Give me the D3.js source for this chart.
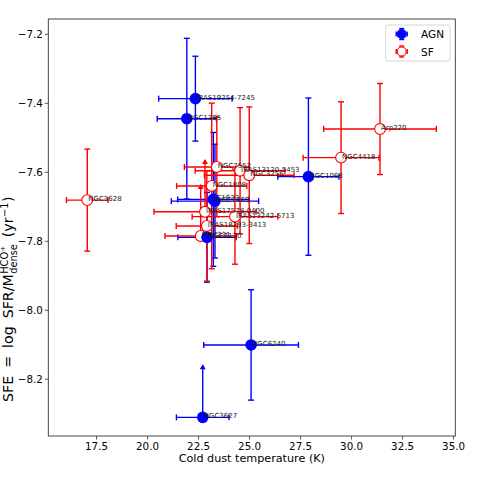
<!DOCTYPE html>
<html>
<head>
<meta charset="utf-8">
<script src="https://cdn.jsdelivr.net/npm/d3@7"></script>
<style>
  body { margin: 0; background: #fff; }
  text { font-family: 'DejaVu Sans', sans-serif; }
</style>
</head>
<body>
<div id="chart"></div>
<script>
//DATA
var agnNames = ['IRAS19254-7245', 'NGC1365', 'NGC1068', 'IC1623', 'NGC7469', 'NGC7130', 'NGC6240', 'NGC3627'];
var agnTemp  = [22.37, 21.95, 27.91, 23.25, 23.33, 22.94, 25.10, 22.73];
var agnTempErr = [1.8, 1.45, 1.5, 1.75, 2.14, 1.43, 2.32, 1.29];
var agnSfe   = [-7.388, -7.446, -7.614, -7.680, -7.685, -7.790, -8.102, -8.312];
var agnSfeErr = [0.123, 0.233, 0.228, 0.194, 0.165, 0.13, 0.16, 0.151];
var agnUplim = [false, false, false, false, false, false, false, true];

var sfNames = ['Arp220', 'NGC4418', 'NGC3628', 'NGC7552', 'IRAS13120-5453', 'NGC3256', 'NGC1808', 'IRAS17578-0400', 'IRAS13242-5713', 'IRAS18293-3413', 'MRK331'];
var sfTemp  = [31.42, 29.51, 17.07, 23.42, 24.56, 25.01, 23.17, 22.84, 24.31, 22.93, 22.63];
var sfTempErr = [2.76, 1.86, 1.02, 1.59, 2.2, 2.2, 1.72, 2.5, 2.1, 1.5, 1.75];
var sfSfe   = [-7.476, -7.559, -7.682, -7.586, -7.597, -7.610, -7.641, -7.716, -7.730, -7.757, -7.786];
var sfSfeErr = [0.132, 0.162, 0.148, 0.144, 0.183, 0.198, 0.24, 0.15, 0.138, 0.16, 0.148];
var sfUplim = [false, false, false, false, false, false, false, true, false, false, true];

var xTicks = [17.5, 20.0, 22.5, 25.0, 27.5, 30.0, 32.5, 35.0];
var yTicks = [-7.2, -7.4, -7.6, -7.8, -8.0, -8.2];

//SET UP
var width = 485,
    height = 485,
    plotLeft = 48.3, plotRight = 455.3, plotTop = 19, plotBottom = 436;

var svg = d3.select('#chart').append('svg')
    .attr('width', width)
    .attr('height', height);

var x = d3.scaleLinear().domain([15.16, 35.11]).range([plotLeft, plotRight]);
var y = d3.scaleLinear().domain([-7.157, -8.366]).range([plotTop, plotBottom]);

function makeRows(names, t, te, s, se, up) {
  return names.map(function(n, i) {
    return { name: n, t: t[i], te: te[i], s: s[i], se: se[i], up: up[i] };
  });
}
var agn = makeRows(agnNames, agnTemp, agnTempErr, agnSfe, agnSfeErr, agnUplim);
var sf = makeRows(sfNames, sfTemp, sfTempErr, sfSfe, sfSfeErr, sfUplim);

//AXES
var xAxis = d3.axisBottom(x).tickValues(xTicks).tickSize(3.5).tickPadding(3)
    .tickFormat(d3.format('.1f'));
var yAxis = d3.axisLeft(y).tickValues(yTicks).tickSize(3.5).tickPadding(2)
    .tickFormat(function(d) { return d3.format('.1f')(d).replace('-', '\u2212'); });

var gx = svg.append('g').attr('transform', 'translate(0,' + plotBottom + ')').call(xAxis);
var gy = svg.append('g').attr('transform', 'translate(' + plotLeft + ',0)').call(yAxis);
[gx, gy].forEach(function(g) {
  g.select('.domain').remove();
  g.selectAll('line').attr('stroke', '#333').attr('stroke-width', 0.8);
  g.selectAll('text').attr('font-size', 10.3).attr('fill', '#000')
    .attr('font-family', 'DejaVu Sans');
});

//ERROR BARS
function drawBars(rows, color) {
  var g = svg.append('g').attr('stroke', color).attr('stroke-width', 1.4).attr('fill', 'none');
  rows.forEach(function(d) {
    var cx = x(d.t), cy = y(d.s);
    // horizontal
    g.append('line').attr('x1', x(d.t - d.te)).attr('x2', x(d.t + d.te)).attr('y1', cy).attr('y2', cy);
    [d.t - d.te, d.t + d.te].forEach(function(v) {
      g.append('line').attr('x1', x(v)).attr('x2', x(v)).attr('y1', cy - 3).attr('y2', cy + 3);
    });
    // vertical
    if (d.up) {
      var ty = y(d.s + d.se);
      g.append('line').attr('x1', cx).attr('x2', cx).attr('y1', cy).attr('y2', ty);
      g.append('path').attr('fill', color).attr('stroke', 'none')
        .attr('d', 'M' + (cx - 3) + ',' + (ty + 4) + 'L' + cx + ',' + (ty - 1) + 'L' + (cx + 3) + ',' + (ty + 4) + 'Z');
    } else {
      g.append('line').attr('x1', cx).attr('x2', cx).attr('y1', y(d.s + d.se)).attr('y2', y(d.s - d.se));
      [d.s + d.se, d.s - d.se].forEach(function(v) {
        g.append('line').attr('x1', cx - 3).attr('x2', cx + 3).attr('y1', y(v)).attr('y2', y(v));
      });
    }
  });
}
drawBars(agn, 'blue');
drawBars(sf, 'red');

//MARKERS
svg.append('g').selectAll('circle').data(sf).enter().append('circle')
    .attr('cx', function(d) { return x(d.t); })
    .attr('cy', function(d) { return y(d.s); })
    .attr('r', 5.4)
    .attr('fill', '#fff').attr('stroke', 'red').attr('stroke-width', 1.1);

svg.append('g').selectAll('circle').data(agn).enter().append('circle')
    .attr('cx', function(d) { return x(d.t); })
    .attr('cy', function(d) { return y(d.s); })
    .attr('r', 5.8)
    .attr('fill', 'blue');

//LABELS
svg.append('g').selectAll('text').data(agn.concat(sf)).enter().append('text')
    .attr('x', function(d) { return x(d.t) + 1; })
    .attr('y', function(d) { return y(d.s) + 1; })
    .attr('font-size', 7)
    .attr('fill', '#1a1a1a')
    .text(function(d) { return d.name; });

//FRAME
svg.append('rect')
    .attr('x', plotLeft).attr('y', plotTop)
    .attr('width', plotRight - plotLeft).attr('height', plotBottom - plotTop)
    .attr('fill', 'none').attr('stroke', '#333').attr('stroke-width', 0.9);

//AXIS LABELS
svg.append('text')
    .attr('x', (plotLeft + plotRight) / 2).attr('y', 462)
    .attr('text-anchor', 'middle').attr('font-size', 11.2)
    .text('Cold dust temperature (K)');

// y label, mathtext-like; reads upward from y=402
var yl = svg.append('g').attr('transform', 'translate(13,402) rotate(-90)');
var parts = [
  { t: 'SFE', size: 14.2, dy: 0, gap: 0 },
  { t: '=', size: 14.2, dy: 0, gap: 8 },
  { t: 'log', size: 14.2, dy: 0, gap: 8 },
  { t: 'SFR/M', size: 14.2, dy: 0, gap: 8 },
  { t: 'HCO', size: 9.8, dy: -4.8, gap: 0.5, stackStart: true },
  { t: '+', size: 7, dy: -8.5, gap: 0 },
  { t: 'dense', size: 9.8, dy: 3.5, gap: 0, stackReset: true },
  { t: '(yr', size: 14.2, dy: 0, gap: 7, stackEnd: true },
  { t: '\u22121', size: 9.8, dy: -5.5, gap: 0.5 },
  { t: ')', size: 14.2, dy: 0, gap: 0.5 }
];
var cursor = 0, stackX = 0, stackMax = 0;
parts.forEach(function(p) {
  if (p.stackReset) { stackMax = Math.max(stackMax, cursor); cursor = stackX; }
  if (p.stackEnd) { cursor = Math.max(stackMax, cursor); }
  cursor += p.gap;
  if (p.stackStart) { stackX = cursor; }
  var t = yl.append('text').attr('x', cursor).attr('y', p.dy)
      .attr('font-size', p.size).text(p.t);
  cursor += t.node().getComputedTextLength();
});

//LEGEND
var lg = svg.append('g');
lg.append('rect')
    .attr('x', 385.7).attr('y', 25).attr('width', 64.5).attr('height', 36).attr('rx', 2.5)
    .attr('fill', '#fff').attr('fill-opacity', 0.8)
    .attr('stroke', '#ccc').attr('stroke-width', 0.8);
[{ name: 'AGN', color: 'blue', fill: 'blue', yy: 34 }, { name: 'SF', color: 'red', fill: '#fff', yy: 51.5 }]
  .forEach(function(e) {
    var cx = 401.7;
    lg.append('line').attr('x1', cx - 5.5).attr('x2', cx + 5.5).attr('y1', e.yy).attr('y2', e.yy)
      .attr('stroke', e.color).attr('stroke-width', 1.4);
    lg.append('line').attr('x1', cx).attr('x2', cx).attr('y1', e.yy - 5.5).attr('y2', e.yy + 5.5)
      .attr('stroke', e.color).attr('stroke-width', 1.4);
    [[cx - 5.5, e.yy, 'h'], [cx + 5.5, e.yy, 'h'], [cx, e.yy - 5.5, 'v'], [cx, e.yy + 5.5, 'v']].forEach(function(c) {
      if (c[2] === 'h') {
        lg.append('line').attr('x1', c[0]).attr('x2', c[0]).attr('y1', c[1] - 2.5).attr('y2', c[1] + 2.5)
          .attr('stroke', e.color).attr('stroke-width', 1.4);
      } else {
        lg.append('line').attr('x1', c[0] - 2.5).attr('x2', c[0] + 2.5).attr('y1', c[1]).attr('y2', c[1])
          .attr('stroke', e.color).attr('stroke-width', 1.4);
      }
    });
    lg.append('circle').attr('cx', cx).attr('cy', e.yy).attr('r', 4.5)
      .attr('fill', e.fill).attr('stroke', e.color).attr('stroke-width', 1.1);
    lg.append('text').attr('x', 421).attr('y', e.yy + 4).attr('font-size', 10.5).text(e.name);
  });
</script>
</body>
</html>
